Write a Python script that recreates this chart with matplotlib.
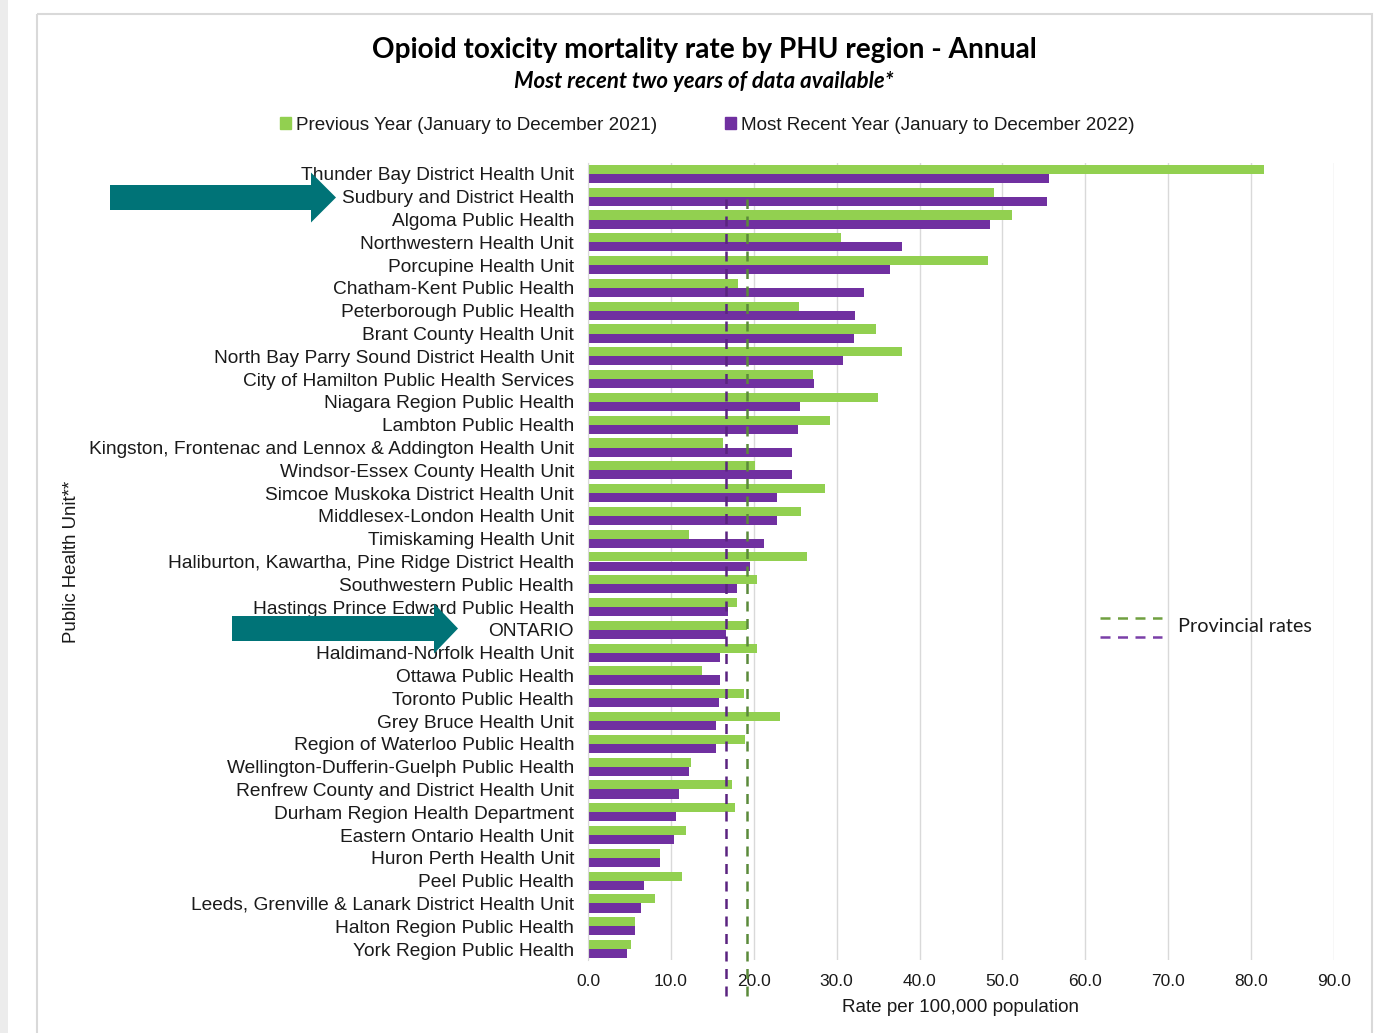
import matplotlib.pyplot as plt
import matplotlib.patches as mpatches
import numpy as np

plt.rcParams['font.family'] = ['Liberation Sans', 'DejaVu Sans']

units = [
    'Thunder Bay District Health Unit', 'Sudbury and District Health',
    'Algoma Public Health', 'Northwestern Health Unit', 'Porcupine Health Unit',
    'Chatham-Kent Public Health', 'Peterborough Public Health',
    'Brant County Health Unit', 'North Bay Parry Sound District Health Unit',
    'City of Hamilton Public Health Services', 'Niagara Region Public Health',
    'Lambton Public Health', 'Kingston, Frontenac and Lennox & Addington Health Unit',
    'Windsor-Essex County Health Unit', 'Simcoe Muskoka District Health Unit',
    'Middlesex-London Health Unit', 'Timiskaming Health Unit',
    'Haliburton, Kawartha, Pine Ridge District Health', 'Southwestern Public Health',
    'Hastings Prince Edward Public Health', 'ONTARIO',
    'Haldimand-Norfolk Health Unit', 'Ottawa Public Health', 'Toronto Public Health',
    'Grey Bruce Health Unit', 'Region of Waterloo Public Health',
    'Wellington-Dufferin-Guelph Public Health', 'Renfrew County and District Health Unit',
    'Durham Region Health Department', 'Eastern Ontario Health Unit',
    'Huron Perth Health Unit', 'Peel Public Health',
    'Leeds, Grenville & Lanark District Health Unit', 'Halton Region Public Health',
    'York Region Public Health',
]
prev_2021 = [81.5, 49.0, 51.1, 30.5, 48.3, 18.1, 25.5, 34.7, 37.9, 27.1,
             35.0, 29.2, 16.3, 20.1, 28.6, 25.7, 12.2, 26.4, 20.4, 18.0,
             19.2, 20.4, 13.8, 18.8, 23.2, 18.9, 12.4, 17.4, 17.7, 11.8,
             8.7, 11.3, 8.1, 5.7, 5.2]
recent_2022 = [55.6, 55.4, 48.5, 37.9, 36.4, 33.3, 32.2, 32.1, 30.8, 27.3,
               25.6, 25.3, 24.6, 24.6, 22.8, 22.8, 21.2, 19.5, 18.0, 16.9,
               16.6, 15.9, 15.9, 15.8, 15.4, 15.4, 12.2, 11.0, 10.6, 10.4,
               8.7, 6.8, 6.4, 5.7, 4.7]
prov_2021 = 19.2
prov_2022 = 16.6
xticks = [0, 10, 20, 30, 40, 50, 60, 70, 80, 90]

green = '#92d050'
purple = '#7030a0'
teal = '#007377'
txt = '#1a1a1a'

fig = plt.figure(figsize=(13.83, 10.33), dpi=100)
W, H = 1383, 1033

# overlay in pixel coords for frame, arrows and the provincial key
over = fig.add_axes([0, 0, 1, 1], zorder=5)
over.set_xlim(0, W)
over.set_ylim(H, 0)
over.axis('off')
over.patch.set_alpha(0)
over.add_patch(mpatches.Rectangle((37, 14), 1335, 1030, fill=False,
                                  ec='#d9d9d9', lw=1.5, clip_on=False))
over.add_patch(mpatches.Rectangle((0, 0), 8, H, fc='#ececec', ec='none'))


def arrow(x0, x1, xt, yc, half, head):
    pts = [(x0, yc - half), (x1, yc - half), (x1, yc - head), (xt, yc),
           (x1, yc + head), (x1, yc + half), (x0, yc + half)]
    over.add_patch(mpatches.Polygon(pts, closed=True, fc=teal, ec='none'))


arrow(110, 311, 336, 197.5, 12.5, 25)
arrow(232, 434, 458, 628.5, 12.5, 25)

ax = fig.add_axes([588 / W, 1 - 960.4 / H, (1334 - 588) / W, (960.4 - 162.6) / H])
y = np.arange(len(units))
h = 0.4
ax.barh(y - h / 2, prev_2021, height=h, color=green, zorder=2)
ax.barh(y + h / 2, recent_2022, height=h, color=purple, zorder=2)
ax.set_ylim(len(units) - 0.5, -0.5)
ax.set_xlim(0, 90)
ax.set_yticks(y)
ax.set_yticklabels(units, fontsize=13.8, color=txt)
ax.set_xticks(xticks)
ax.set_xticklabels([f'{v:.1f}' for v in xticks], fontsize=12.5, color=txt)
ax.tick_params(axis='y', length=0, pad=10)
ax.tick_params(axis='x', length=0, pad=10)
ax.grid(axis='x', color='#d9d9d9', lw=1, zorder=0)
for s in ['top', 'right', 'bottom']:
    ax.spines[s].set_visible(False)
ax.spines['left'].set_color('#d9d9d9')

# provincial dashed lines, running past the axis
tr = ax.get_xaxis_transform()
ax.plot([prov_2021, prov_2021], [-0.044, 0.955], transform=tr, color='#5b8a3a',
        lw=1.8, ls=(0, (4, 3)), clip_on=False, zorder=3)
ax.plot([prov_2022, prov_2022], [-0.044, 0.955], transform=tr, color='#5a2380',
        lw=1.8, ls=(0, (4, 3)), clip_on=False, zorder=3)

ax.set_xlabel('Rate per 100,000 population', fontsize=13.6, color=txt, labelpad=7)
fig.text(72 / W, 1 - 562 / H, 'Public Health Unit**', rotation=90, fontsize=13.4,
         ha='center', va='center', color=txt)

fig.text(704 / W, 1 - 50 / H, 'Opioid toxicity mortality rate by PHU region - Annual',
         family='Lato', fontweight='bold', fontsize=20.2, ha='center', va='center')
fig.text(704 / W, 1 - 81 / H, 'Most recent two years of data available*',
         family='Lato', fontweight='bold', style='italic', fontsize=16,
         ha='center', va='center')

handles = [mpatches.Patch(color=green), mpatches.Patch(color=purple)]
fig.legend(handles, ['Previous Year (January to December 2021)',
                     'Most Recent Year (January to December 2022)'],
           loc='center', bbox_to_anchor=(707 / W, 1 - 125 / H), ncol=2, frameon=False,
           fontsize=13.6, handlelength=0.6, handleheight=0.6, handletextpad=0.25,
           columnspacing=3.6, labelcolor=txt)

over.plot([1100, 1162], [618, 618], color='#70a040', lw=1.8, ls=(0, (4, 3)))
over.plot([1100, 1162], [637, 637], color='#7a3fa8', lw=1.8, ls=(0, (4, 3)))
over.text(1178, 627, 'Provincial rates', family='Lato', fontsize=14.3,
          va='center', ha='left', color=txt)

fig.savefig('out.png', dpi=100)
